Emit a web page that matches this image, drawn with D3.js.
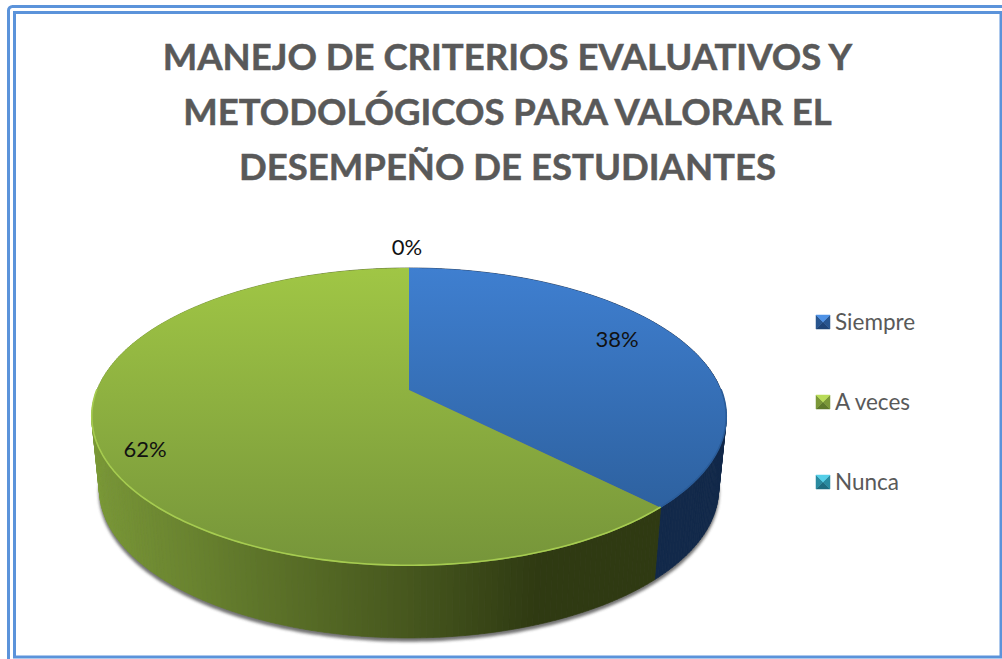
<!DOCTYPE html>
<html><head><meta charset="utf-8">
<script src="https://cdn.jsdelivr.net/npm/d3@7/dist/d3.min.js"></script>
<style>html,body{margin:0;padding:0;background:#fff}svg{display:block}</style>
</head><body><svg id="c" width="1002" height="659"></svg>
<script>
const titleLines = ["MANEJO DE CRITERIOS EVALUATIVOS Y","METODOLÓGICOS PARA VALORAR EL","DESEMPEÑO DE ESTUDIANTES"];
const categories = ["Siempre","A veces","Nunca"];
const values = [37.6,62.4,0];
const topColors = [["#3f7fd0","#295a94"],["#a0c645","#76953a"],["#3fb5d0","#26788e"]];
const wallDark = ["#12294a","#2f3a12","#14505f"];
const wallLight = ["#1a3660","#7d9c39","#20708a"];
const rimColors = ["#2a5c99","#a6cc50","#3a9ab0"];
const legendColors = [["#4f92e6","#28558f","#1f4477","#28558f"],["#b9dc58","#7b9838","#5f7a2b","#7b9838"],["#55cfe8","#2a8ba0","#1f6c80","#2a8ba0"]];

const svg = d3.select("#c");
const defs = svg.append("defs");
const F = "Lato, 'Noto Sans', sans-serif";

// frame
const frame = [[8.5,6.5,1200,1200,3],[14.5,12.5,986.5,644.5,3]];
svg.selectAll("rect.f").data(frame).join("rect").attr("class","f")
  .attr("x",d=>d[0]).attr("y",d=>d[1]).attr("width",d=>d[2]).attr("height",d=>d[3])
  .attr("rx",(d,i)=>i?0:4).attr("fill",(d,i)=>i?"#fff":"none").attr("stroke","#5b93da").attr("stroke-width",d=>d[4]);

// title
svg.append("g").selectAll("text").data(titleLines).join("text")
  .attr("x",507.5).attr("y",(d,i)=>70+i*55).attr("text-anchor","middle")
  .attr("font-family",F).attr("font-weight",700).attr("font-size",36.5)
  .attr("fill","#595959").attr("stroke","#595959").attr("stroke-width",.5).text(d=>d);

// perspective projection of the unit disc
const cx=409, k=0.181;
const project=(a,plane)=>{
  const u=Math.sin(a), v=Math.cos(a), w=1+k*v;
  const top=plane==="top";
  return [cx+(top?312:304.5)*u/w, (top?390:462)-144.1*v/w];
};
const pie=d3.pie().sort(null).value(d=>d)(values);
const line=d3.line();
const step=Math.PI/180;
const arcPts=(s,e,plane)=>{
  const n=Math.max(1,Math.ceil((e-s)/step));
  return d3.range(0,n+1).map(i=>project(s+(e-s)*i/n,plane));
};

// shadow filter
const fl=defs.append("filter").attr("id","sh").attr("x","-10%").attr("y","-10%").attr("width","120%").attr("height","120%");
fl.append("feGaussianBlur").attr("stdDeviation",1.8);
svg.append("path").attr("d",line(arcPts(0,2*Math.PI,"bottom"))+"Z").attr("transform","translate(0,3)")
  .attr("fill","#444").attr("stroke","#444").attr("stroke-width",1.5).attr("opacity",.75).attr("filter","url(#sh)");

// side walls drawn back-to-front, lit from the left
const lightScale=d3.scaleLinear().domain([-1,-0.6,0,0.35,1]).range([1,.75,.3,0,0]).clamp(true);
const quads=[];
pie.forEach((p,i)=>{
  const n=Math.ceil((p.endAngle-p.startAngle)/step);
  for(let j=0;j<n;j++){
    const s=p.startAngle+(p.endAngle-p.startAngle)*j/n, e=p.startAngle+(p.endAngle-p.startAngle)*(j+1)/n;
    quads.push({s,e,i});
  }
});
quads.sort((a,b)=>Math.cos(b.s)-Math.cos(a.s));
const wallFill=d=>d3.interpolateRgb(wallDark[d.i],wallLight[d.i])(lightScale(Math.sin(d.s)));
svg.append("g").selectAll("path").data(quads).join("path")
  .attr("d",d=>line([project(d.s,"top"),project(d.e,"top"),project(d.e,"bottom"),project(d.s,"bottom")])+"Z")
  .attr("fill",wallFill).attr("stroke",wallFill).attr("stroke-width",.7);

// top surface
pie.forEach((p,i)=>{
  const g=defs.append("linearGradient").attr("id","t"+i).attr("gradientUnits","userSpaceOnUse").attr("x1",0).attr("x2",0).attr("y1",268).attr("y2",566);
  g.append("stop").attr("offset",0).attr("stop-color",topColors[i][0]);
  g.append("stop").attr("offset",1).attr("stop-color",topColors[i][1]);
});
svg.append("g").selectAll("path").data(pie).join("path")
  .attr("d",p=>line([[cx,390],...arcPts(p.startAngle,p.endAngle,"top")])+"Z")
  .attr("fill",(p,i)=>`url(#t${i})`);

// bevel rim on the near edge of the top surface
svg.append("g").selectAll("path").data(pie).join("path")
  .attr("d",p=>{
    const s=Math.max(p.startAngle,Math.PI/2), e=Math.min(p.endAngle,Math.PI*1.5);
    return e>s?line(arcPts(s,e,"top")):null;
  })
  .attr("transform","translate(0,-0.7)").attr("fill","none").attr("stroke",(p,i)=>rimColors[i]).attr("stroke-width",1.6);

// data labels
const labelPos=[[617,347],[145,457],[407,255]];
svg.append("g").selectAll("text").data(pie).join("text")
  .attr("x",(p,i)=>labelPos[i][0]).attr("y",(p,i)=>labelPos[i][1]).attr("text-anchor","middle")
  .attr("font-family",F).attr("font-size",22).attr("fill","#111")
  .text(p=>d3.format(".0f")(p.value)+"%");

// legend
const ly=d3.scalePoint().domain(categories).range([322,482]);
const lg=svg.append("g").selectAll("g").data(categories).join("g").attr("transform",d=>`translate(823,${ly(d)})`);
const tri=[[[-7,7],[7,7],[0,0]],[[-7,-7],[-7,7],[0,0]],[[7,-7],[7,7],[0,0]],[[-7,-7],[7,-7],[0,0]]];
const triColor=[2,1,3,0];
lg.each(function(c,i){
  d3.select(this).selectAll("path").data(tri).join("path").attr("d",t=>line(t)+"Z")
    .attr("fill",(t,j)=>legendColors[i][triColor[j]]).attr("stroke",(t,j)=>legendColors[i][triColor[j]]).attr("stroke-width",.5);
});
lg.append("text").attr("x",12).attr("y",7.5).attr("font-family",F).attr("font-size",22.5).attr("fill","#595959").text(d=>d);
</script></body></html>
